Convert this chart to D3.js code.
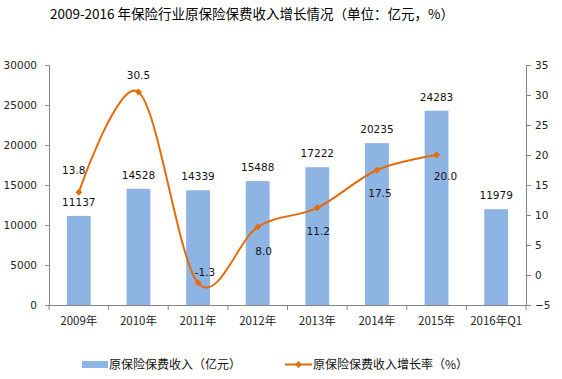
<!DOCTYPE html>
<html><head><meta charset="utf-8">
<script src="https://cdn.jsdelivr.net/npm/d3@7/dist/d3.min.js"></script>
<style>body{margin:0;background:#fff}</style>
</head><body>
<script>
const categories = ["2009年","2010年","2011年","2012年","2013年","2014年","2015年","2016年Q1"];
const premium = [11137,14528,14339,15488,17222,20235,24283,11979];
const growth = [13.8,30.5,-1.3,8.0,11.2,17.5,20.0];
const leftTicks = [0,5000,10000,15000,20000,25000,30000];
const rightTicks = [-5,0,5,10,15,20,25,30,35];
const title = "2009-2016 年保险行业原保险保费收入增长情况（单位：亿元，%）";
const legendLabels = ["原保险保费收入（亿元）","原保险保费收入增长率（%）"];
// label placement: [dx, dy] relative to point
const growthLabelOffset = [[-5,-22],[0,-17],[7,-11],[6,24],[1,23],[3,23],[9,21]];

const W=562,H=379;
const svg=d3.select("body").append("svg").attr("width",W).attr("height",H);
const font="DejaVu Sans, Verdana, sans-serif";
const cjk="'Noto Sans CJK SC', sans-serif";
const x=d3.scaleBand().domain(categories).range([49,526]);
const yL=d3.scaleLinear().domain([0,30000]).range([305,65]);
const yR=d3.scaleLinear().domain([-5,35]).range([305,65]);
const axisColor="#868686";
const barColor="#8EB4E3";
const lineColor="#E46C0A";

svg.append("text").attr("x",252).attr("y",19).attr("text-anchor","middle")
  .attr("font-family",cjk).attr("font-size",13.5).attr("fill","#000").text(title);

// left axis
const gL=svg.append("g").attr("transform","translate(49,0)")
  .call(d3.axisLeft(yL).tickValues(leftTicks).tickSize(4).tickPadding(8).tickFormat(d3.format("d")));
// right axis
const gR=svg.append("g").attr("transform","translate(526,0)")
  .call(d3.axisRight(yR).tickValues(rightTicks).tickSize(5).tickPadding(4).tickFormat(d3.format("d")));
// x axis
const gX=svg.append("g").attr("transform","translate(0,305)")
  .call(d3.axisBottom(x).tickSize(0).tickPadding(12));
[gL,gR,gX].forEach(g=>{
  g.select(".domain").attr("stroke",axisColor);
  g.selectAll(".tick line").attr("stroke",axisColor);
  g.selectAll("text").attr("font-family",font).attr("font-size",10.5).attr("fill","#222");
});
gX.selectAll("text").attr("font-family",cjk).attr("font-size",11.5);
// x boundary ticks
const bounds=categories.map(c=>x(c)).concat([x.range()[1]]);
svg.append("g").selectAll("line").data(bounds).join("line")
  .attr("x1",d=>d).attr("x2",d=>d).attr("y1",305).attr("y2",310).attr("stroke",axisColor);

// bars
const bw=x.bandwidth()*0.4;
svg.append("g").selectAll("rect").data(premium).join("rect")
  .attr("x",(d,i)=>x(categories[i])+x.bandwidth()/2-bw/2)
  .attr("width",bw)
  .attr("y",d=>yL(d)).attr("height",d=>yL(0)-yL(d))
  .attr("fill",barColor);
svg.append("g").selectAll("text").data(premium).join("text")
  .attr("x",(d,i)=>x(categories[i])+x.bandwidth()/2)
  .attr("y",d=>yL(d)-10)
  .attr("text-anchor","middle").attr("font-family",font).attr("font-size",10.5).attr("fill","#111")
  .text(d=>d);

// line
const pts=growth.map((v,i)=>[x(categories[i])+x.bandwidth()/2,yR(v)]);
svg.append("path").attr("d",d3.line().curve(d3.curveCardinal.tension(0))(pts))
  .attr("fill","none").attr("stroke",lineColor).attr("stroke-width",2);
svg.append("g").selectAll("path").data(pts).join("path")
  .attr("d",d3.symbol(d3.symbolDiamond2,30)())
  .attr("transform",d=>`translate(${d[0]},${d[1]})`).attr("fill",lineColor);
svg.append("g").selectAll("text").data(growth).join("text")
  .attr("x",(d,i)=>pts[i][0]+growthLabelOffset[i][0])
  .attr("y",(d,i)=>pts[i][1]+growthLabelOffset[i][1]+4)
  .attr("text-anchor","middle").attr("font-family",font).attr("font-size",10.5).attr("fill","#111")
  .text(d=>d.toFixed(1));

// legend
const lg=svg.append("g");
lg.append("rect").attr("x",82).attr("y",361).attr("width",26).attr("height",7).attr("fill",barColor);
lg.append("text").attr("x",109).attr("y",369).attr("font-family",cjk).attr("font-size",12).attr("fill","#111").text(legendLabels[0]);
lg.append("line").attr("x1",285).attr("x2",312).attr("y1",364.5).attr("y2",364.5).attr("stroke",lineColor).attr("stroke-width",2);
lg.append("path").attr("d",d3.symbol(d3.symbolDiamond2,30)()).attr("transform","translate(298.5,364.5)").attr("fill",lineColor);
lg.append("text").attr("x",313).attr("y",369).attr("font-family",cjk).attr("font-size",12).attr("fill","#111").text(legendLabels[1]);
</script>
</body></html>
